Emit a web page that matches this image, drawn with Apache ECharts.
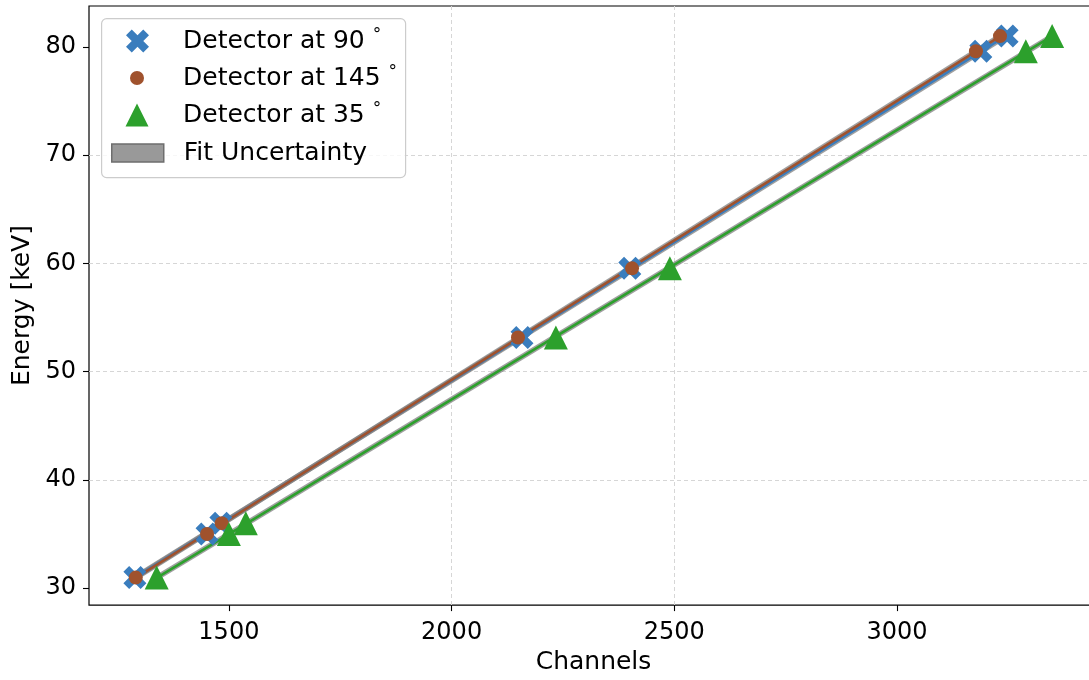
<!DOCTYPE html>
<html>
<head>
<meta charset="utf-8">
<script src="https://cdn.jsdelivr.net/npm/echarts@6/dist/echarts.min.js"></script>
<style>
  html, body { margin: 0; padding: 0; overflow: hidden; background: #fff; }
  #chart { width: 1100px; height: 680px; }
</style>
</head>
<body>
<div id="chart"></div>
<script>
// Calibration lines (keV) and the channel where each detector saw them
const energyKeV   = [30.97, 35.0, 36.0, 53.16, 59.54, 79.6, 81.0];
const channels90  = [1289, 1451, 1482, 2158, 2400, 3188, 3247];
const channels145 = [1291, 1451, 1484, 2149, 2405, 3177, 3231];
const channels35  = [1338, 1500, 1538, 2234, 2490, 3289, 3348];

const detectorNames = ['Detector at 90 °', 'Detector at 145 °', 'Detector at 35 °'];
const bandName = 'Fit Uncertainty';
const xTicks = [1500, 2000, 2500, 3000];
const yTicks = [30, 40, 50, 60, 70, 80];
const bandHalfWidthKeV = 0.3;

const FONT = 'DejaVu Sans';
const colors = ['#3a7dbd', '#a0522d', '#2ca02c'];
const X_PATH = 'path://M6 0L8 2L6 4L8 6L6 8L4 6L2 8L0 6L2 4L0 2L2 0L4 2Z';

// least-squares straight line E = a * ch + b
function linearFit(xs, ys) {
  const n = xs.length;
  const mx = xs.reduce((s, v) => s + v, 0) / n;
  const my = ys.reduce((s, v) => s + v, 0) / n;
  let sxy = 0, sxx = 0;
  for (let i = 0; i < n; i++) { sxy += (xs[i] - mx) * (ys[i] - my); sxx += (xs[i] - mx) ** 2; }
  const a = sxy / sxx, b = my - a * mx;
  return ch => a * ch + b;
}

const detectors = [
  { name: detectorNames[0], ch: channels90,  color: colors[0], symbol: X_PATH,     size: 23 },
  { name: detectorNames[1], ch: channels145, color: colors[1], symbol: 'circle',   size: 14 },
  { name: detectorNames[2], ch: channels35,  color: colors[2], symbol: 'triangle', size: 24 }
];

const series = [];

// uncertainty bands (bottom layer)
detectors.forEach(d => {
  const fit = linearFit(d.ch, energyKeV);
  const x0 = Math.min(...d.ch), x1 = Math.max(...d.ch);
  const pts = [
    [x0, fit(x0) + bandHalfWidthKeV], [x1, fit(x1) + bandHalfWidthKeV],
    [x1, fit(x1) - bandHalfWidthKeV], [x0, fit(x0) - bandHalfWidthKeV]
  ];
  series.push({
    type: 'custom', name: bandName, silent: true, z: 1,
    data: [pts[0]],
    itemStyle: { color: 'rgba(128,128,128,0.75)' },
    renderItem: (params, api) => ({
      type: 'polygon',
      shape: { points: pts.map(p => api.coord(p)) },
      style: { fill: 'rgba(128,128,128,0.75)' }
    })
  });
  d.fitLine = [[x0, fit(x0)], [x1, fit(x1)]];
});

// fit lines
detectors.forEach((d, i) => {
  series.push({
    type: 'line', name: d.name + ' fit', data: d.fitLine, z: 2 + i * 0.1,
    showSymbol: false, silent: true,
    lineStyle: { color: d.color, width: 2.6 }
  });
});

// measured peaks
detectors.forEach((d, i) => {
  series.push({
    type: 'scatter', name: d.name, z: 5 + i,
    symbol: d.symbol, symbolSize: d.size,
    itemStyle: { color: d.color, opacity: 1 },
    data: d.ch.map((c, k) => [c, energyKeV[k]])
  });
});

// legend labels: the degree sign is set smaller and raised, like a superscript
const legendText = {
  fontFamily: FONT, fontSize: 25, color: '#000', lineHeight: 28,
  rich: {
    deg: { fontFamily: FONT, fontSize: 17, color: '#000', lineHeight: 28, verticalAlign: 'top', padding: [0, 0, 4, 0] }
  }
};
const degFormatter = name => name.replace('°', '{deg|°}');
function legendEntry(item, left, top, w, h, padLeft) {
  return {
    data: [item], left: left, top: top, itemWidth: w, itemHeight: h,
    padding: 0, selectedMode: false, z: 100, formatter: degFormatter,
    textStyle: Object.assign({ padding: [0, 0, 0, padLeft] }, legendText)
  };
}

const plainNumber = v => String(v);

const option = {
  animation: false,
  backgroundColor: '#fff',
  grid: { left: 89, top: 6, right: 2, bottom: 73, show: true, borderColor: '#000', borderWidth: 1.2 },
  xAxis: {
    type: 'value', min: 1186, max: 3451, splitNumber: 5,
    axisLine: { show: false },
    axisTick: { show: true, length: 6, customValues: xTicks, lineStyle: { color: '#000', width: 1.1 } },
    axisLabel: { customValues: xTicks, formatter: plainNumber, margin: 16, fontSize: 24, color: '#000', fontFamily: FONT },
    splitLine: { show: true, showMinLine: false, showMaxLine: false, lineStyle: { color: '#d6d6d6', type: [4, 3], width: 1 } },
    name: 'Channels', nameLocation: 'middle', nameGap: 43,
    nameTextStyle: { fontFamily: FONT, fontSize: 25, color: '#000' }
  },
  yAxis: {
    type: 'value', min: 28.43, max: 83.78, splitNumber: 5,
    axisLine: { show: false },
    axisTick: { show: true, length: 6, customValues: yTicks, lineStyle: { color: '#000', width: 1.1 } },
    axisLabel: { customValues: yTicks, formatter: plainNumber, margin: 13, fontSize: 24, color: '#000', fontFamily: FONT },
    splitLine: { show: true, showMinLine: false, showMaxLine: false, lineStyle: { color: '#d6d6d6', type: [4, 3], width: 1 } },
    name: 'Energy [keV]', nameLocation: 'middle', nameGap: 52,
    nameTextStyle: { fontFamily: FONT, fontSize: 25, color: '#000' }
  },
  legend: [
    legendEntry({ name: detectorNames[0], icon: X_PATH, itemStyle: { color: colors[0] } }, 126, 27, 23, 23, 29),
    legendEntry({ name: detectorNames[1], icon: 'circle', itemStyle: { color: colors[1] } }, 130, 64, 14, 14, 34),
    legendEntry({ name: detectorNames[2], icon: 'triangle', itemStyle: { color: colors[2] } }, 125.5, 101, 23, 23, 29.5),
    legendEntry({ name: bandName, icon: 'rect', itemStyle: { color: '#999999', borderColor: '#6e6e6e', borderWidth: 1.5 } }, 111, 139, 52, 18, 15)
  ],
  graphic: [{
    type: 'rect', left: 101, top: 18, z: 50,
    shape: { width: 304, height: 159, r: 5 },
    style: { fill: 'rgba(255,255,255,0.8)', stroke: '#cccccc', lineWidth: 1.2 }
  }],
  series: series
};

const chart = echarts.init(document.getElementById('chart'), null, { renderer: 'canvas' });
chart.setOption(option);
</script>
</body>
</html>
